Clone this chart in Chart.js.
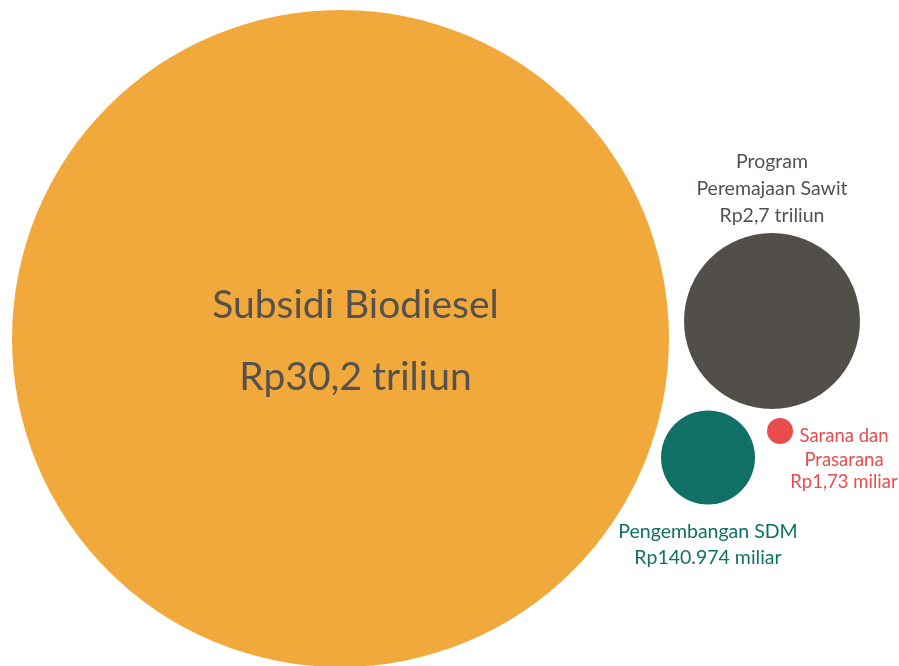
<!DOCTYPE html>
<html>
<head>
<meta charset="utf-8">
<script src="https://cdn.jsdelivr.net/npm/chart.js"></script>
<style>
  html, body { margin: 0; padding: 0; background: #ffffff; }
  #wrap { width: 899px; height: 666px; }
</style>
</head>
<body>
<div id="wrap"><canvas id="chart" width="899" height="666"></canvas></div>
<script>
// kategori anggaran dan nilai yang ditulis di gambar
const categories = ['Subsidi Biodiesel', 'Program Peremajaan Sawit', 'Sarana dan Prasarana', 'Pengembangan SDM'];
const valueLabels = ['Rp30,2 triliun', 'Rp2,7 triliun', 'Rp1,73 miliar', 'Rp140.974 miliar'];

// koordinat gelembung (skala 0-899 / 0-666) dan jari-jarinya
const bubbleX = [340.5, 772, 780, 708];
const bubbleY = [338.5, 321, 431, 457.5];
const bubbleR = [328.5, 88, 13, 47];

const colors = ['#f2a93b', '#524f4a', '#e84c4d', '#117066'];
const textColors = ['#55514c', '#55514c', '#e84c4d', '#117066'];

const FONT = 'Lato, "Open Sans", sans-serif';

// teks tiap gelembung: baris, offset dari pusat gelembung, ukuran
const labelLayout = [
  { lines: ['Subsidi Biodiesel', valueLabels[0]], dx: 15, dy: [-21, 51], size: 39 },
  { lines: ['Program', 'Peremajaan Sawit', valueLabels[1]], dx: 0, dy: [-153, -126, -99], size: 19.5 },
  { lines: ['Sarana dan', 'Prasarana', valueLabels[2]], dx: 64, dy: [11, 35, 57], size: 18.5 },
  { lines: ['Pengembangan SDM', valueLabels[3]], dx: 0, dy: [80, 106], size: 19.5 }
];

const bubbleLabels = {
  id: 'bubbleLabels',
  afterDatasetsDraw(chart) {
    const ctx = chart.ctx;
    const meta = chart.getDatasetMeta(0);
    ctx.save();
    ctx.textAlign = 'center';
    ctx.textBaseline = 'alphabetic';
    meta.data.forEach((pt, i) => {
      const l = labelLayout[i];
      ctx.fillStyle = textColors[i];
      ctx.font = l.size + 'px ' + FONT;
      l.lines.forEach((t, j) => {
        ctx.fillText(t, pt.x + l.dx, pt.y + l.dy[j]);
      });
    });
    ctx.restore();
  }
};

new Chart(document.getElementById('chart'), {
  type: 'bubble',
  data: {
    labels: categories,
    datasets: [{
      data: bubbleX.map((x, i) => ({ x: x, y: bubbleY[i], r: bubbleR[i] })),
      backgroundColor: colors,
      borderWidth: 0,
      hoverRadius: 0,
      clip: false
    }]
  },
  options: {
    responsive: false,
    animation: false,
    events: [],
    layout: { padding: 0, autoPadding: false },
    plugins: {
      legend: { display: false },
      tooltip: { enabled: false }
    },
    scales: {
      x: { type: 'linear', min: 0, max: 899, display: false },
      y: { type: 'linear', min: 0, max: 666, reverse: true, display: false }
    }
  },
  plugins: [bubbleLabels]
});
</script>
</body>
</html>
